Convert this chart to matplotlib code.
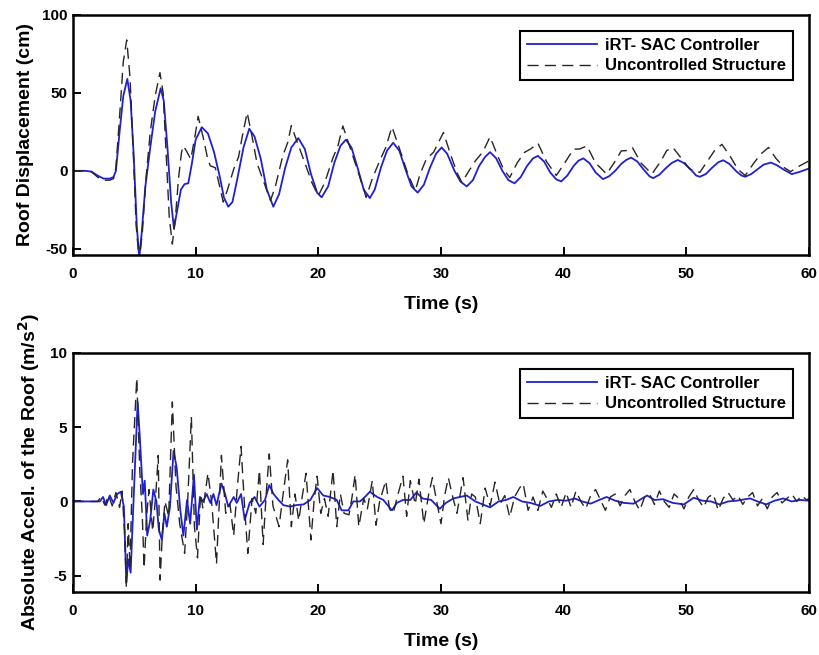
import numpy as np
import matplotlib
matplotlib.use("Agg")
import matplotlib.pyplot as plt

# Roof displacement (cm): (time s, value)
disp_ctrl = np.array([
    (0.0, 0), (1.0, 0), (1.5, -0.5), (2.0, -3), (2.5, -5), (3.0, -5), (3.3, -4),
    (3.5, 0), (3.8, 25), (4.1, 48), (4.43, 59), (4.7, 45), (4.95, 10), (5.2, -35),
    (5.4, -56), (5.6, -40), (5.9, -10), (6.3, 15), (6.7, 38), (7.15, 53), (7.4, 45),
    (7.7, 15), (8.0, -20), (8.23, -37), (8.5, -25), (8.8, -12), (9.1, -8.5), (9.4, -8),
    (9.7, 5), (10.0, 20), (10.5, 28), (11.0, 24), (11.5, 12), (12.0, -5), (12.3, -17),
    (12.66, -23), (13.0, -20), (13.4, -5), (13.9, 15), (14.37, 27), (14.8, 22),
    (15.3, 8), (15.8, -12), (16.33, -23), (16.8, -15), (17.3, 2), (17.8, 15),
    (18.37, 21), (18.9, 14), (19.4, -2), (19.9, -14), (20.27, -17), (20.8, -10),
    (21.3, 5), (21.8, 16), (22.25, 20), (22.7, 15), (23.2, 2), (23.7, -12),
    (24.2, -17.5), (24.6, -12), (25.1, 2), (25.6, 13), (26.1, 18), (26.6, 13),
    (27.1, 1), (27.6, -10), (28.1, -14), (28.6, -9), (29.1, 2), (29.6, 11),
    (30.05, 15), (30.5, 11), (31.1, 0), (31.6, -7), (32.1, -10), (32.6, -6),
    (33.1, 3), (33.6, 9), (34.0, 12), (34.5, 8), (35.0, 0), (35.5, -6), (36.0, -8),
    (36.5, -4), (37.0, 3), (37.5, 8), (37.9, 9.6), (38.4, 6), (38.9, -1),
    (39.4, -5.5), (39.8, -6.8), (40.3, -3), (40.8, 3), (41.2, 6.5), (41.6, 8),
    (42.1, 5), (42.6, -1), (43.2, -5.3), (43.7, -3.5), (44.2, 0), (44.7, 4.5),
    (45.1, 7), (45.5, 8.5), (46.0, 6), (46.5, 1), (47.0, -3.5), (47.3, -4.7),
    (47.8, -2.5), (48.3, 1.5), (48.8, 5), (49.3, 7), (49.8, 5), (50.4, 0.5),
    (50.8, -3), (51.1, -3.8), (51.6, -2), (52.1, 2), (52.6, 5.5), (53.0, 6.8),
    (53.5, 4.5), (54.1, -0.5), (54.5, -3), (54.8, -3.8), (55.3, -2), (55.8, 1),
    (56.3, 4), (56.9, 5.3), (57.4, 3.5), (58.0, 0.5), (58.6, -2.1), (59.3, -0.5),
    (60.0, 1.5),
])

disp_unc = np.array([
    (0.0, 0), (1.0, 0), (1.5, -0.5), (2.0, -4), (2.5, -6), (3.0, -6), (3.3, -5),
    (3.5, 2), (3.8, 35), (4.1, 70), (4.38, 84), (4.65, 60), (4.9, 15), (5.15, -35),
    (5.4, -58), (5.65, -40), (5.95, -5), (6.3, 25), (6.7, 48), (7.09, 63),
    (7.35, 50), (7.6, 10), (7.85, -30), (8.1, -47), (8.35, -30), (8.6, -5),
    (8.85, 12), (9.0, 16), (9.3, 12), (9.6, 7.5), (9.9, 20), (10.2, 35), (10.6, 22),
    (11.0, 7), (11.2, 3.2), (11.6, 2), (11.9, -8), (12.25, -20), (12.6, -12),
    (13.1, 1), (13.5, 9), (13.8, 22), (14.2, 37.4), (14.6, 22), (15.0, 5),
    (15.5, -6), (16.1, -19), (16.5, -10), (17.1, 9.6), (17.5, 18), (17.8, 29),
    (18.3, 18), (19.0, 3), (19.5, -8), (20.0, -16), (20.5, -8), (21.2, 8.5),
    (21.6, 16), (22.0, 28.8), (22.5, 17), (23.3, -2), (23.9, -17), (24.4, -5),
    (25.0, 6.4), (25.5, 15), (26.0, 28.2), (26.5, 17), (27.3, -2), (27.9, -12.8),
    (28.3, -2), (28.8, 7.5), (29.4, 12), (30.2, 24.6), (30.8, 10), (31.3, -1),
    (31.7, -7.5), (32.2, -1), (32.8, 6.4), (33.4, 12), (34.0, 21.8), (34.6, 10),
    (35.1, 1), (35.6, -4.3), (36.2, 5), (36.8, 11.8), (37.3, 14), (37.9, 17.7),
    (38.6, 6), (39.4, -3), (40.0, 4), (40.8, 13.9), (41.3, 14), (41.9, 16),
    (42.6, 5), (43.5, -2), (44.1, 5), (44.7, 12.8), (45.1, 13), (45.6, 15),
    (46.3, 5), (47.2, -2), (47.9, 6), (48.4, 13), (48.9, 15), (49.6, 8), (50.3, 1),
    (51.1, -1), (51.7, 6), (52.3, 13), (52.9, 17), (53.6, 9), (54.2, 1), (54.8, -3),
    (55.5, 5), (56.1, 11), (56.7, 15), (57.3, 8), (58.0, 2), (58.5, -0.5),
    (59.2, 3), (60.0, 6.4),
])

# Absolute acceleration of the roof (m/s^2): (time s, value)
acc_ctrl = np.array([
    (0.0, 0), (2.2, 0), (2.45, 0.3), (2.7, -0.25), (3.0, 0.4), (3.3, -0.1),
    (3.6, 0.5), (3.9, 0.65), (4.15, -0.35), (4.35, -5.5), (4.5, -3.9), (4.7, -4.8),
    (4.95, 0.3), (5.27, 6.7), (5.45, 4.3), (5.7, 0.5), (5.85, 1.4), (6.05, -2.3),
    (6.3, -1.25), (6.55, 0.8), (6.8, 0), (7.0, -1.9), (7.25, -2.6), (7.45, -0.8),
    (7.65, -1.7), (7.9, -0.4), (8.2, 3.4), (8.45, 2.3), (8.75, -0.6), (9.0, -2.3),
    (9.3, 0.1), (9.55, -1.5), (9.86, 1.8), (10.1, -1.9), (10.35, 0.3), (10.6, 0),
    (10.9, 0.5), (11.2, -0.1), (11.45, 0.5), (11.7, -0.25), (12.1, 1.2), (12.4, 0.5),
    (12.65, -0.35), (13.1, 0.3), (13.35, -0.1), (13.7, 0.5), (14.0, -1.25),
    (14.4, -0.1), (14.8, 0.3), (15.2, -0.35), (15.65, 0.1), (16.0, 1.1),
    (16.35, 0.5), (16.75, 0.1), (17.15, -0.25), (17.7, -0.35), (18.2, -0.25),
    (18.8, -0.2), (19.35, 0.1), (19.9, 0.9), (20.4, 0.4), (20.95, 0.3), (21.5, 0.1),
    (21.9, -0.6), (22.45, -0.6), (22.85, 0), (23.4, 0), (23.8, 0.3), (24.2, 0.65),
    (24.8, 0.3), (25.3, 0.1), (26.0, -0.6), (26.4, -0.1), (26.9, 0.1), (27.5, 0.1),
    (28.0, 0.6), (28.5, 0.2), (29.2, 0.1), (29.9, -0.5), (30.4, -0.1), (31.0, 0.2),
    (32.1, 0.4), (32.8, 0), (33.4, -0.2), (34.0, -0.4), (34.7, 0), (35.3, 0.1),
    (35.9, 0.3), (36.6, 0), (37.3, -0.1), (38.1, -0.3), (38.8, 0), (39.5, 0.1),
    (40.2, 0.05), (40.9, 0.2), (41.5, 0), (42.2, -0.15), (42.9, 0.1), (43.5, 0.3),
    (44.2, 0.05), (44.9, -0.1), (45.7, -0.15), (46.2, 0.1), (46.8, 0.4),
    (47.4, 0.1), (48.1, 0.15), (48.9, -0.1), (49.8, -0.2), (50.6, 0.25),
    (51.3, 0.05), (52.0, 0), (52.7, -0.2), (53.4, 0), (54.1, 0.05), (54.8, 0.15),
    (55.2, 0.2), (55.8, 0), (56.5, -0.2), (57.2, 0.05), (57.9, 0.2), (58.6, 0),
    (59.3, 0.1), (60.0, 0.05),
])

acc_unc = np.array([
    (0.0, 0), (2.0, 0), (2.3, 0.3), (2.6, -0.25), (2.9, 0.4), (3.2, -0.3),
    (3.5, 0.6), (3.8, -0.4), (4.0, 0.7), (4.2, -2), (4.35, -5.8), (4.5, -1.5),
    (4.65, -4.5), (4.85, 2.5), (5.2, 8.3), (5.45, 2), (5.65, -1), (5.8, -4.5),
    (6.0, -1), (6.2, 0.8), (6.5, -2), (6.75, 0.5), (6.95, 3.1), (7.1, -5.3),
    (7.3, -2), (7.5, 0), (7.8, -1), (8.1, 6.7), (8.4, 1), (8.7, -1.5), (9.1, -3.5),
    (9.35, 0), (9.65, 5.7), (9.9, -1.7), (10.15, -3.8), (10.4, 0.5), (10.6, -0.5),
    (11.0, 1.9), (11.3, 0), (11.7, -4.2), (12.1, 3.1), (12.45, -0.8), (12.8, -0.2),
    (13.1, -2.3), (13.4, 1), (13.7, 3.7), (14.0, -0.5), (14.25, -3.5), (14.6, 0.2),
    (14.9, -0.8), (15.2, 2.1), (15.5, -2.9), (15.75, 0.5), (16.0, 3.2),
    (16.3, -0.3), (16.8, -1.7), (17.1, 0.3), (17.5, 2.8), (17.8, -1.7), (18.1, 0.5),
    (18.4, -1.3), (18.7, 0.4), (19.0, 1.9), (19.4, -2.6), (19.65, 0), (19.9, 1.7),
    (20.2, -0.8), (20.5, 0.2), (20.8, -1), (21.2, 2.1), (21.5, -1.7), (21.8, 0.5),
    (22.1, -0.8), (22.5, -0.9), (22.75, 0.3), (23.0, 1.8), (23.3, -1.7),
    (23.7, 0.2), (24.0, -0.5), (24.4, 1.4), (24.7, -1.6), (25.0, 0), (25.5, 1.4),
    (25.8, -0.5), (26.1, -0.8), (26.5, 0.5), (26.9, 1.7), (27.2, -1.0), (27.5, 1.4),
    (27.9, -0.2), (28.2, 1.5), (28.6, -1.5), (29.0, 0.5), (29.3, 1.6), (29.6, 0.2),
    (30.0, -1.5), (30.3, 0.4), (30.6, 1.6), (30.9, 0.5), (31.3, -0.8), (31.8, 1.6),
    (32.2, -1.3), (32.5, 0.5), (32.8, 0.3), (33.2, -1.5), (33.6, 0.9), (34.0, -0.3),
    (34.4, 1.3), (34.8, -0.2), (35.2, 0.4), (35.6, -1.05), (36.0, 0.3), (36.4, 0.9),
    (36.7, 1.2), (37.1, -0.6), (37.5, 0.3), (37.9, -0.6), (38.3, 0.7), (38.7, 0.1),
    (39.0, -0.4), (39.4, 0.5), (39.8, -0.4), (40.2, 0.6), (40.6, -0.4), (41.0, 0.7),
    (41.4, 0), (41.8, -0.5), (42.2, 0.4), (42.6, 0.8), (43.0, 0.1), (43.4, -0.6),
    (43.8, 0.3), (44.2, 0.5), (44.6, -0.3), (45.0, 0.4), (45.4, 0.8), (45.8, 0),
    (46.2, -0.6), (46.6, 0.3), (47.0, 0.5), (47.4, -0.2), (47.8, 0.7), (48.2, 0),
    (48.6, -0.4), (49.0, 0.5), (49.4, 0.2), (49.8, -0.5), (50.2, 0.3), (50.6, 0.8),
    (51.0, 0.1), (51.4, -0.4), (51.8, 0.3), (52.2, 0.5), (52.6, -0.6), (53.0, 0.2),
    (53.4, 0.6), (53.8, 0.1), (54.2, 0.4), (54.6, -0.2), (55.0, 0.3), (55.4, 0.6),
    (55.8, -0.3), (56.2, 0.2), (56.6, -0.5), (57.0, 0.3), (57.4, 0.6), (57.8, -0.1),
    (58.2, 0.2), (58.6, 0.5), (59.0, 0), (59.4, 0.4), (59.8, 0.1), (60.0, 0.2),
])

x_ticks = [0, 10, 20, 30, 40, 50, 60]
disp_ticks = [-50, 0, 50, 100]
acc_ticks = [-5, 0, 5, 10]
series_labels = ["iRT- SAC Controller", "Uncontrolled Structure"]

plt.rcParams["font.family"] = ["Liberation Sans", "DejaVu Sans"]
plt.rcParams["font.weight"] = "bold"
plt.rcParams["axes.labelweight"] = "bold"
plt.rcParams["axes.unicode_minus"] = False
plt.rcParams["mathtext.default"] = "bf"

fig = plt.figure(figsize=(8.2, 6.55), dpi=100)
fig.patch.set_facecolor("white")

ax_top = fig.add_axes([0.089, 0.6107, 0.8976, 0.3664])
ax_bot = fig.add_axes([0.089, 0.0962, 0.8976, 0.3649])

ctrl_style = dict(color="#2020d0", lw=1.3, solid_joinstyle="round")
unc_style = dict(color="#262626", lw=1.0, dashes=(8, 4.5))


def style_axes(ax, yticks, ylim, ylabel):
    ax.set_facecolor("none")
    ax.set_xlim(0, 60)
    ax.set_ylim(*ylim)
    ax.set_xticks(x_ticks)
    ax.set_yticks(yticks)
    ax.tick_params(direction="in", length=5.5, width=1.4, labelsize=11,
                   top=False, right=False)
    ax.tick_params(axis="x", pad=9)
    ax.tick_params(axis="y", pad=4)
    for s in ax.spines.values():
        s.set_linewidth(1.8)
    ax.set_xlabel("Time (s)", fontsize=14, labelpad=10.5)
    ax.set_ylabel(ylabel, fontsize=14, labelpad=6)
    leg = ax.legend(loc="upper right", bbox_to_anchor=(0.978, 0.935),
                    borderaxespad=0, fontsize=12, handlelength=4.2,
                    handletextpad=0.45, labelspacing=0.35, borderpad=0.42,
                    fancybox=False, framealpha=1)
    leg.get_frame().set_edgecolor("black")
    leg.get_frame().set_linewidth(1.5)


ax_top.plot(disp_ctrl[:, 0], disp_ctrl[:, 1], label=series_labels[0], **ctrl_style)
ax_top.plot(disp_unc[:, 0], disp_unc[:, 1], label=series_labels[1], **unc_style)
style_axes(ax_top, disp_ticks, (-54, 100), "Roof Displacement (cm)")

ax_bot.plot(acc_ctrl[:, 0], acc_ctrl[:, 1], label=series_labels[0], **ctrl_style)
ax_bot.plot(acc_unc[:, 0], acc_unc[:, 1], label=series_labels[1], **unc_style)
style_axes(ax_bot, acc_ticks, (-6.1, 10), "Absolute Accel. of the Roof (m/s$^2$)")

fig.savefig("out.png", dpi=100, facecolor="white")
